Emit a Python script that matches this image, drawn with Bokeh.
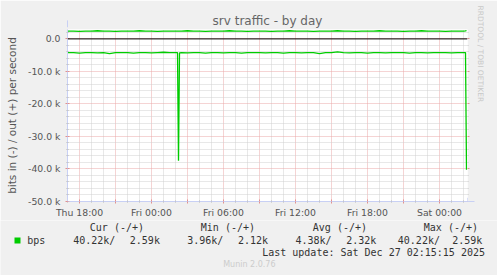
import pandas as pd
from bokeh.plotting import figure
from bokeh.layouts import column
from bokeh.models import (FixedTicker, CustomJSTickFormatter, LinearAxis, Range1d, Span,
                          ColumnDataSource, Title, Arrow, NormalHead)
from bokeh.core.properties import value
from bokeh.embed import file_html
from bokeh.resources import INLINE

# ---------------- data ----------------
grid_start = "2025-12-25 17:00"
grid_end = "2025-12-27 02:00"
# half-hourly samples, kbit/s (in drawn negative, out positive)
in_k = [-4.2, -4.2, -4.4, -4.2, -4.2, -4.3, -4.2, -4.5, -4.2, -4.2,
        -4.2, -4.4, -4.2, -4.2, -4.3, -4.2, -4.1, -4.2, -4.2, -4.2,
        -4.3, -4.2, -4.2, -4.4, -4.2, -4.2, -4.3, -4.2, -4.2, -4.4,
        -4.2, -4.2, -4.2, -4.3, -4.2, -4.2, -4.4, -4.2, -4.2, -4.3,
        -4.2, -4.2, -4.5, -4.2, -4.2, -3.96, -4.2, -4.3, -4.2, -4.2,
        -4.4, -4.2, -4.2, -4.3, -4.2, -4.2, -4.2, -4.4, -4.2, -4.2,
        -4.3, -4.2, -4.2, -4.2, -4.3, -4.2, -4.2]
out_k = [2.4, 2.4, 2.3, 2.4, 2.4, 2.5, 2.4, 2.4, 2.3, 2.4,
         2.4, 2.4, 2.5, 2.4, 2.4, 2.3, 2.4, 2.4, 2.4, 2.4,
         2.5, 2.4, 2.4, 2.3, 2.4, 2.4, 2.4, 2.5, 2.4, 2.4,
         2.3, 2.4, 2.4, 2.4, 2.3, 2.4, 2.4, 2.5, 2.4, 2.4,
         2.4, 2.3, 2.4, 2.4, 2.4, 2.5, 2.4, 2.4, 2.3, 2.4,
         2.4, 2.4, 2.5, 2.4, 2.4, 2.4, 2.3, 2.4, 2.4, 2.5,
         2.4, 2.4, 2.4, 2.3, 2.4, 2.4, 2.4]
spike_times = ["2025-12-26 02:10", "2025-12-26 02:15", "2025-12-26 02:20"]
spike_in_k = [-4.2, -37.5, -4.3]
spike_out_k = [2.4, 2.4, 2.4]
tail_times = ["2025-12-27 02:10", "2025-12-27 02:15"]
tail_in_k = [-4.2, -40.22]
tail_out_k = [2.45, 2.59]

legend_headers = ["Cur (-/+)", "Min (-/+)", "Avg (-/+)", "Max (-/+)"]
legend_values = ["40.22k/", "2.59k", "3.96k/", "2.12k", "4.38k/", "2.32k", "40.22k/", "2.59k"]
series_name = "bps"
title_text = "srv traffic - by day"
y_label = "bits in (-) / out (+) per second"
last_update = "Last update: Sat Dec 27 02:15:15 2025"
version_text = "Munin 2.0.76"
side_text = "RRDTOOL / TOBI OETIKER"
y_ticks = [-50000, -40000, -30000, -20000, -10000, 0]

# ---------------- build frame ----------------
t_grid = list(pd.date_range(grid_start, grid_end, freq="30min"))
df = pd.DataFrame({
    "t": t_grid + [pd.Timestamp(s) for s in spike_times] + [pd.Timestamp(s) for s in tail_times],
    "vin": [v * 1000 for v in in_k + spike_in_k + tail_in_k],
    "vout": [v * 1000 for v in out_k + spike_out_k + tail_out_k],
}).sort_values("t").drop_duplicates("t", keep="last")
src = ColumnDataSource(df)

GREEN = "#00cc00"
TXT = "#555555"
BG = "#f0f0f0"
MAIN_H = 220
X0 = pd.Timestamp("2025-12-25 17:00")
X1 = pd.Timestamp("2025-12-27 02:20")

p = figure(width=497, height=MAIN_H, x_axis_type="datetime", output_backend="svg",
           toolbar_location=None,
           x_range=Range1d(X0, X1),
           y_range=Range1d(-50000, 2890),
           background_fill_color="white", border_fill_color=BG,
           outline_line_color=None,
           min_border_left=67, min_border_right=30, min_border_top=29,
           min_border_bottom=MAIN_H - 203)
p.frame_align = False

p.title.text = title_text
p.title.align = "center"
p.title.text_font = "DejaVu Sans"
p.title.text_font_size = "12px"
p.title.text_font_style = "normal"
p.title.text_color = "#666666"
p.title.standoff = 3
p.title.offset = -2

# x ticks
major_x = [int(t.value // 10**6) for t in pd.date_range("2025-12-25 18:00", "2025-12-27 00:00", freq="3h")]
minor_x = [int(t.value // 10**6) for t in pd.date_range("2025-12-25 17:00", "2025-12-27 02:00", freq="1h")
           if t.hour % 3 != 0]
xticker = FixedTicker(ticks=major_x, minor_ticks=minor_x)
p.xaxis.ticker = xticker
p.xgrid.ticker = xticker
p.xaxis.formatter = CustomJSTickFormatter(code="""
const d = new Date(tick);
const h = d.getUTCHours();
if (h % 6 !== 0) return "";
const days = ["Sun","Mon","Tue","Wed","Thu","Fri","Sat"];
return days[d.getUTCDay()] + " " + (h < 10 ? "0" + h : "" + h) + ":00";
""")
minor_y = [v for v in range(-48000, 4000, 2000) if v % 10000 != 0]
yticker = FixedTicker(ticks=y_ticks, minor_ticks=minor_y)
p.yaxis.ticker = yticker
p.ygrid.ticker = yticker
p.yaxis.formatter = CustomJSTickFormatter(code="""
return tick == 0 ? "0.0" : (tick/1000).toFixed(1) + " k";
""")

AX = "#c8d0f4"
for ax in (p.xaxis[0], p.yaxis[0]):
    ax.axis_line_color = AX
    ax.major_tick_line_color = "#e09090"
    ax.minor_tick_line_color = "#b8b8b8"
    ax.major_tick_in = 2
    ax.major_tick_out = 2
    ax.minor_tick_in = 1
    ax.minor_tick_out = 1
    ax.major_label_text_font = "DejaVu Sans"
    ax.major_label_text_font_size = "9.3px"
    ax.major_label_text_color = TXT
p.xaxis.major_label_standoff = 3
p.yaxis.major_label_standoff = 5
p.yaxis.axis_label = y_label
p.yaxis.axis_label_text_font = "DejaVu Sans"
p.yaxis.axis_label_text_font_style = "normal"
p.yaxis.axis_label_text_font_size = "10.5px"
p.yaxis.axis_label_text_color = TXT
p.yaxis.axis_label_standoff = 7

right_ax = LinearAxis(ticker=yticker, formatter=CustomJSTickFormatter(code="return '';"),
                      axis_line_color=None, major_tick_line_color="#e09090",
                      minor_tick_line_color="#c8c8c8", major_tick_in=0, major_tick_out=2,
                      minor_tick_in=0, minor_tick_out=1, major_label_standoff=0)
p.add_layout(right_ax, "right")
p.add_layout(Title(text=side_text, align="left", text_font="DejaVu Sans",
                   text_font_size="7.5px", text_font_style="normal", text_color="#c8c8c8",
                   standoff=12, offset=-24), "right")

# grids
for g in (p.xgrid[0], p.ygrid[0]):
    g.grid_line_color = "#eaa8a8"
    g.grid_line_dash = "1 1"
    g.minor_grid_line_color = "#d0d0d0"
    g.minor_grid_line_dash = "1 1"

# data lines
p.line("t", "vout", source=src, line_color=GREEN, line_width=1.3)
p.line("t", "vin", source=src, line_color=GREEN, line_width=1.3)
p.add_layout(Span(location=0, dimension="width", line_color="black", line_width=1))

# axis arrowheads (extend the axis lines past the plotting area)
p.add_layout(Arrow(x_start=X0, y_start=-50000, x_end=X0, y_end=5700,
                   line_color=AX, line_width=1,
                   end=NormalHead(size=7, fill_color=AX, line_color=AX)))
p.add_layout(Arrow(x_start=X0, y_start=-50000, x_end=pd.Timestamp("2025-12-27 02:55"),
                   y_end=-50000, line_color=AX, line_width=1,
                   end=NormalHead(size=7, fill_color=AX, line_color=AX)))

# ---------------- legend strip ----------------
LEG_H = 275 - MAIN_H
q = figure(width=497, height=LEG_H, output_backend="svg", toolbar_location=None,
           x_range=Range1d(0, 497), y_range=Range1d(LEG_H, 0),
           min_border=0, background_fill_color=BG, border_fill_color=BG,
           outline_line_color=None)
q.frame_align = False
q.axis.visible = False
q.grid.visible = False

def row_y(y):
    return y - MAIN_H

mono = dict(text_font=value("DejaVu Sans Mono"), text_font_size="10px",
            text_color="#333333", text_baseline="middle", text_align="left")
header_x = [89.3, 200.3, 312.3, 423.3]
q.text(x=header_x, y=[row_y(227)] * 4, text=legend_headers, **mono)
value_x = [72.7, 129.3, 186.7, 237.4, 295.0, 345.7, 397.3, 451.7]
q.text(x=[26.7] + value_x, y=[row_y(240)] * 9, text=[series_name] + legend_values, **mono)
q.text(x=[261.7], y=[row_y(252)], text=[last_update], **mono)
q.text(x=[222.7], y=[row_y(263.5)], text=[version_text], text_font=value("DejaVu Sans"),
       text_font_size="8px", text_color="#cccccc", text_baseline="middle", text_align="left")
q.quad(left=[14], right=[20], top=[row_y(237)], bottom=[row_y(243)],
       fill_color=GREEN, line_color=None)

layout = column(p, q, spacing=0)
open("out.html", "w").write(file_html(layout, INLINE))
